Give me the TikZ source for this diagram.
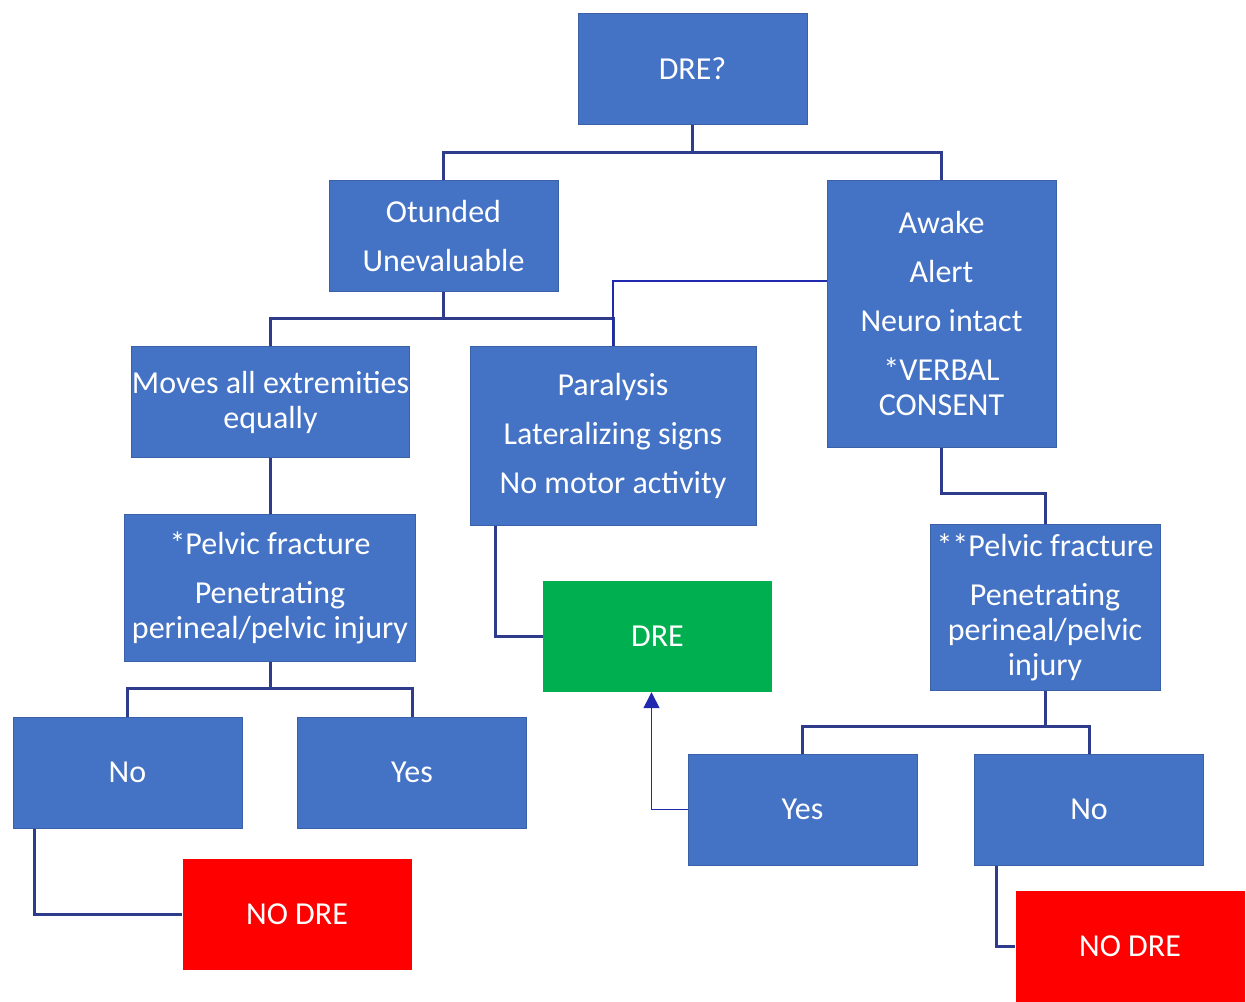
\documentclass[tikz,border=0pt]{standalone}
\usepackage{fontspec}
\setmainfont{Carlito}
\usetikzlibrary{arrows.meta}
\definecolor{boxblue}{HTML}{4472C4}
\definecolor{okgreen}{HTML}{00B050}
\definecolor{stopred}{HTML}{FF0000}
\definecolor{linkblue}{HTML}{2F3C8C}

\begin{document}
\begin{tikzpicture}
  [x=1pt,y=-1pt,
   every node/.style={rectangle,inner sep=0pt,text=white,align=center,
     font=\fontsize{32}{35}\selectfont,minimum width=229pt,minimum height=111pt},
   box/.style={fill=boxblue,draw=boxblue!85!black,line width=1pt},
   ok/.style={fill=okgreen},
   stop/.style={fill=stopred},
   link/.style={draw=linkblue,line width=3pt},
   thinlink/.style={draw=linkblue!70!blue,line width=1.5pt}]
  \useasboundingbox[fill=white] (0,0) rectangle (1246,1001);

  \node[box] (dre) at (692.5,69) {DRE?};
  \node[box] (otunded) at (443.5,236) {Otunded\\[14pt]Unevaluable};
  \node[box,minimum height=267pt] (awake) at (941.5,313.5)
    {Awake\\[14pt]Alert\\[14pt]Neuro intact\\[14pt]*VERBAL\\CONSENT};
  \node[box,minimum width=277pt] (moves) at (270.5,402) {Moves all extremities\\equally};
  \node[box,minimum width=286pt,minimum height=179pt] (paral) at (613,435.5)
    {Paralysis\\[14pt]Lateralizing signs\\[14pt]No motor activity};
  \node[box,minimum width=291pt,minimum height=147pt] (pelvicL) at (270,587.5)
    {*Pelvic fracture\\[14pt]Penetrating\\perineal/pelvic injury};
  \node[ok] (dreok) at (657.5,636.5) {DRE};
  \node[box,minimum width=230pt,minimum height=166pt] (pelvicR) at (1045,607)
    {**Pelvic fracture\\[14pt]Penetrating\\perineal/pelvic\\injury};
  \node[box] (noL) at (127.5,772.5) {No};
  \node[box] (yesL) at (412,772.5) {Yes};
  \node[stop] (nodreL) at (297,914) {NO DRE};
  \node[box] (yesR) at (802.5,809.5) {Yes};
  \node[box] (noR) at (1089,809.5) {No};
  \node[stop] (nodreR) at (1130,946) {NO DRE};

  % branch points
  \coordinate (jTop) at (692.5,152);
  \coordinate (jOt) at (443.5,318);
  \coordinate (jAw) at (941.5,493);
  \coordinate (jPL) at (270,688);
  \coordinate (jPR) at (1045,726);

  \draw[link] (dre.south) -- (jTop);
  \foreach \to in {otunded,awake}
    \draw[link] (jTop) -| (\to.north);
  \draw[link] (otunded.south) -- (jOt);
  \foreach \to in {moves,paral}
    \draw[link] (jOt) -| (\to.north);
  \draw[thinlink] ([yshift=32.5pt]awake.west) -| (paral.north);
  \draw[link] (moves.south) -- (moves.south |- pelvicL.north);
  \draw[link] (pelvicL.south) -- (jPL);
  \foreach \to in {noL,yesL}
    \draw[link] (jPL) -| (\to.north);
  \draw[link] ([xshift=22pt]noL.south west) |- (nodreL.west);
  \draw[link] ([xshift=26pt]paral.south west) |- (dreok.west);
  \draw[link] (awake.south) |- (jAw) -| (pelvicR.north);
  \draw[link] (pelvicR.south) -- (jPR);
  \foreach \to in {yesR,noR}
    \draw[link] (jPR) -| (\to.north);
  \draw[thinlink,-{Triangle[width=16pt,length=16pt]}] (yesR.west) -| ([xshift=-6pt]dreok.south);
  \draw[link] ([xshift=22pt]noR.south west) |- (nodreR.west);
\end{tikzpicture}
\end{document}
